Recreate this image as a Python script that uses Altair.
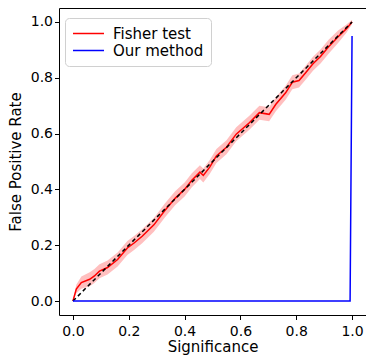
import altair as alt
import pandas as pd

# Fisher test curve (mean) and band half-width
fisher_x = [0, 0.012, 0.03, 0.06, 0.077, 0.095, 0.124, 0.16, 0.195, 0.219, 0.248, 0.29, 0.33, 0.366,
            0.40, 0.426, 0.455, 0.467, 0.49, 0.514, 0.55, 0.585, 0.632, 0.668, 0.703, 0.727, 0.762,
            0.786, 0.81, 0.833, 0.86, 0.887, 0.916, 0.95, 0.98, 1.0]
fisher_y = [0, 0.043, 0.066, 0.078, 0.09, 0.107, 0.12, 0.149, 0.19, 0.208, 0.232, 0.273, 0.325, 0.368,
            0.40, 0.433, 0.462, 0.45, 0.48, 0.52, 0.551, 0.598, 0.639, 0.675, 0.669, 0.705, 0.746,
            0.784, 0.79, 0.817, 0.85, 0.876, 0.911, 0.947, 0.976, 1.0]
fisher_hw = [0, 0.015, 0.022, 0.025, 0.025, 0.025, 0.025, 0.025, 0.025, 0.025, 0.025, 0.025, 0.025, 0.025,
             0.025, 0.025, 0.025, 0.025, 0.025, 0.025, 0.025, 0.025, 0.025, 0.025, 0.025, 0.025, 0.025,
             0.025, 0.025, 0.025, 0.025, 0.025, 0.025, 0.022, 0.015, 0.008]

# Our method
our_x = [0, 0.993, 1.0]
our_y = [0, 0, 0.95]

# Diagonal reference
diag_x = [0, 1]
diag_y = [0, 1]

series = ["Fisher test", "Our method"]
colors = ["#ff0000", "#0000ff"]
ticks = [0, 0.2, 0.4, 0.6, 0.8, 1.0]

band_df = pd.DataFrame({
    "x": fisher_x,
    "lo": [y - h for y, h in zip(fisher_y, fisher_hw)],
    "hi": [y + h for y, h in zip(fisher_y, fisher_hw)],
})
lines_df = pd.concat([
    pd.DataFrame({"x": fisher_x, "y": fisher_y, "series": series[0], "o": range(len(fisher_x))}),
    pd.DataFrame({"x": our_x, "y": our_y, "series": series[1], "o": range(len(our_x))}),
])
diag_df = pd.DataFrame({"x": diag_x, "y": diag_y})

xs = alt.Scale(domain=[-0.05, 1.05], nice=False, zero=False)
ys = alt.Scale(domain=[-0.05, 1.05], nice=False, zero=False)
xax = alt.Axis(values=ticks, format=".1f", title="Significance", labelPadding=5, titlePadding=1)
yax = alt.Axis(values=ticks, format=".1f", title="False Positive Rate")

band = alt.Chart(band_df).mark_area(color="#ff0000", opacity=0.25).encode(
    x=alt.X("x:Q", scale=xs, axis=xax),
    y=alt.Y("lo:Q", scale=ys, axis=yax),
    y2="hi:Q",
)

red = alt.Chart(lines_df[lines_df.series == series[0]]).mark_line(strokeWidth=1.5).encode(
    x=alt.X("x:Q", scale=xs),
    y=alt.Y("y:Q", scale=ys),
    order="o:Q",
    color=alt.Color("series:N", scale=alt.Scale(domain=series, range=colors),
                    legend=alt.Legend(title=None, orient="none", legendX=6, legendY=10,
                                      symbolType="M-1,0H3.13", symbolSize=225, symbolStrokeWidth=1.5,
                                      labelFontSize=15, labelFont="DejaVu Sans", labelColor="black",
                                      labelOffset=24, rowPadding=0,
                                      padding=7, cornerRadius=4,
                                      strokeColor="#d0d0d0", fillColor="white")),
)

diag = alt.Chart(diag_df).mark_line(color="black", strokeWidth=1.5, strokeDash=[4, 3]).encode(
    x=alt.X("x:Q", scale=xs),
    y=alt.Y("y:Q", scale=ys),
)

blue = alt.Chart(lines_df[lines_df.series == series[1]]).mark_line(strokeWidth=1.5).encode(
    x=alt.X("x:Q", scale=xs),
    y=alt.Y("y:Q", scale=ys),
    order="o:Q",
    color=alt.Color("series:N", scale=alt.Scale(domain=series, range=colors)),
)

chart = alt.layer(band, red, diag, blue).properties(
    width=358, height=347,
    autosize=alt.AutoSizeParams(type="fit", contains="padding"),
    padding={"left": 0, "top": 0, "right": 0, "bottom": 0},
).configure_view(
    stroke="black", strokeWidth=1
).configure_axis(
    grid=False, domain=False,
    labelFont="DejaVu Sans", titleFont="DejaVu Sans",
    labelFontSize=14, titleFontSize=15, titleFontWeight="normal",
    labelColor="black", titleColor="black", tickColor="black",
    tickSize=4.5, labelPadding=2,
).configure_axisY(
    titlePadding=7
)

chart.save("out.html", embed_options={"renderer": "svg", "actions": False})
